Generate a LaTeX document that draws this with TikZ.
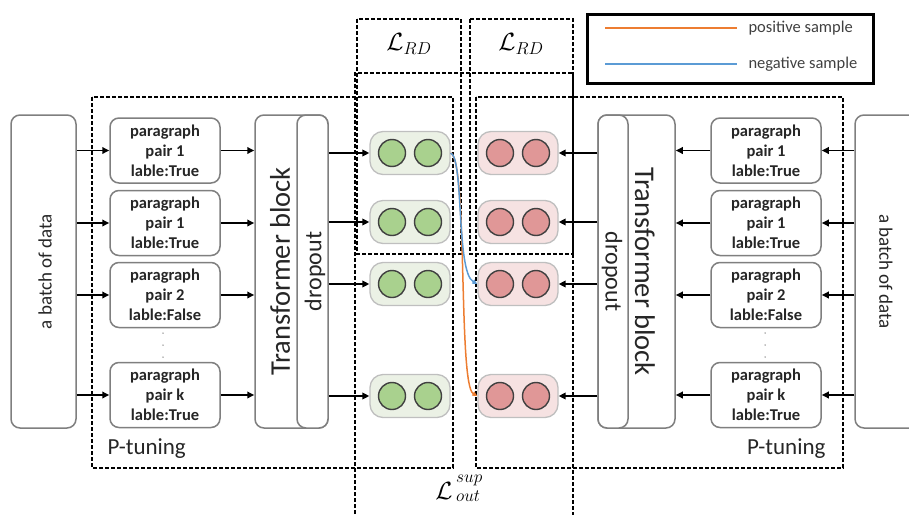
\documentclass[tikz,border=0pt]{standalone}
\usepackage{fontspec}
\setmainfont{Carlito}
\usetikzlibrary{arrows.meta,calc}
\definecolor{boxgray}{HTML}{7F7F7F}
\definecolor{txtdark}{HTML}{262626}
\definecolor{pillgray}{HTML}{BFBFBF}
\definecolor{gpill}{HTML}{EBF1E5}
\definecolor{gcirc}{HTML}{A9D18E}
\definecolor{rpill}{HTML}{F6E2E2}
\definecolor{rcirc}{HTML}{E09797}
\definecolor{circline}{HTML}{404040}
\definecolor{posorange}{HTML}{ED7D31}
\definecolor{negblue}{HTML}{5B9BD5}
\begin{document}
\begin{tikzpicture}[x=1pt,y=-1pt,
  box/.style={draw=boxgray, line width=1.5pt, rounded corners=9pt, fill=white, inner sep=0pt},
  para/.style={box, minimum width=110pt, minimum height=65pt, align=center, text=txtdark,
     font=\fontsize{16.5}{20}\selectfont\bfseries},
  tall/.style={box, minimum height=313pt},
  arr/.style={-{Triangle[length=7pt,width=6.5pt]}, line width=1.8pt},
  dbox/.style={dash pattern=on 4pt off 2pt, line width=2pt},
  pill/.style={draw=pillgray, line width=1.3pt, rounded corners=13pt, minimum width=80pt, minimum height=43pt, inner sep=0pt},
  gp/.style={pill, fill=gpill},
  rp/.style={pill, fill=rpill},
  circ/.style={circle, draw=circline, line width=1.4pt, minimum size=27pt, inner sep=0pt},
  gc/.style={circ, fill=gcirc},
  rc/.style={circ, fill=rcirc},
  dotn/.style={circle, fill=boxgray, minimum size=1.5pt, inner sep=0pt},
  curve/.style={line width=1.5pt, -{Triangle[length=5pt,width=4.5pt]}}
]
\useasboundingbox (0,0) rectangle (909,514);

% dashed frames
\draw[dbox] (92,97) rectangle (453,468);
\draw[dbox] (476,97) rectangle (843,468);
\draw[dbox] (357,19) rectangle (461,254);
\draw[dbox] (470,19) rectangle (573,254);
\draw[dbox] (355,520) -- (355,73) -- (573,73) -- (573,520);

\node (lrd1) at (409,44) {\fontsize{23}{26}\selectfont$\mathcal{L}_{RD}$};
\node (lrd2) at (521,44) {\fontsize{23}{26}\selectfont$\mathcal{L}_{RD}$};
\node[inner sep=0pt] (lsup) at (444,491) {\fontsize{26}{28}\selectfont$\mathcal{L}$};
\node[inner sep=0pt, anchor=south west] (lsupa) at (456,486) {\fontsize{17}{18}\selectfont$sup$};
\node[inner sep=0pt, anchor=north west] (lsupb) at (456,491) {\fontsize{17}{18}\selectfont$out$};

% legend
\draw[line width=3pt] (587,14) rectangle (873,83);
\coordinate (po1) at (605,28); \coordinate (po2) at (737,28);
\coordinate (ne1) at (605,64); \coordinate (ne2) at (737,64);
\draw[posorange, line width=1.6pt] (po1) -- (po2);
\draw[negblue, line width=1.6pt] (ne1) -- (ne2);
\node[anchor=west, text=circline, font=\fontsize{16.5}{18}\selectfont] (pos) at (745,28) {positive sample};
\node[anchor=west, text=circline, font=\fontsize{16.5}{18}\selectfont] (neg) at (745,64) {negative sample};

% left side
\node[tall, minimum width=65pt] (bl) at (43.5,271.5) {};
\node[rotate=90, font=\fontsize{19}{20}\selectfont, text=txtdark] (blt) at (45,271.5) {a batch of data};
\node[para] (p1) at (165,150.5) {paragraph\\pair 1\\lable:True};
\node[para] (p2) at (165,223) {paragraph\\pair 1\\lable:True};
\node[para] (p3) at (165,295) {paragraph\\pair 2\\lable:False};
\node[para] (p4) at (165,395) {paragraph\\pair k\\lable:True};
\node[dotn] (d1) at (163,333) {};
\node[dotn] (d2) at (163,345) {};
\node[dotn] (d3) at (163,357) {};
\node[tall, minimum width=73pt] (tl) at (291.5,271.5) {};
\node[tall, minimum width=31pt] (dl) at (312.5,271.5) {};
\node[rotate=90, font=\fontsize{28.5}{30}\selectfont, text=txtdark] (tlt) at (280,271.5) {Transformer block};
\node[rotate=90, font=\fontsize{24}{26}\selectfont, text=txtdark] (dlt) at (315,271.5) {dropout};

\node[font=\fontsize{23}{26}\selectfont, text=txtdark, anchor=west] (ptl) at (104,449) {P-tuning};

% right side
\node[tall, minimum width=65pt] (br) at (887.5,271.5) {};
\node[rotate=-90, font=\fontsize{19}{20}\selectfont, text=txtdark] (brt) at (886,271.5) {a batch of data};
\node[para] (q1) at (766,150.5) {paragraph\\pair 1\\lable:True};
\node[para] (q2) at (766,223) {paragraph\\pair 1\\lable:True};
\node[para] (q3) at (766,295) {paragraph\\pair 2\\lable:False};
\node[para] (q4) at (766,395) {paragraph\\pair k\\lable:True};
\node[dotn] (e1) at (765,333) {};
\node[dotn] (e2) at (765,345) {};
\node[dotn] (e3) at (765,357) {};
\node[tall, minimum width=77pt] (tr) at (636.5,271.5) {};
\node[tall, minimum width=30pt] (dr) at (613,271.5) {};
\node[rotate=-90, font=\fontsize{28.5}{30}\selectfont, text=txtdark] (trt) at (645,271.5) {Transformer block};
\node[rotate=-90, font=\fontsize{24}{26}\selectfont, text=txtdark] (drt) at (612,271.5) {dropout};

\node[font=\fontsize{23}{26}\selectfont, text=txtdark, anchor=east] (ptr) at (829,449) {P-tuning};

% pills
\foreach \n/\y in {1/153,2/222,3/284,4/396}{
  \node[gp] (g\n) at (410,\y) {};
  \node[gc] (ga\n) at (392,\y) {};
  \node[gc] (gb\n) at (428,\y) {};
  \node[rp] (r\n) at (518,\y) {};
  \node[rc] (ra\n) at (500,\y) {};
  \node[rc] (rb\n) at (536,\y) {};
}

% arrows left
\foreach \p in {p1,p2,p3,p4}{
  \draw[arr] (bl.east |- \p.west) -- (\p.west);
  \draw[arr] (\p.east) -- (\p.east -| tl.west);
}
\foreach \g in {g1,g2,g3,g4}{
  \draw[arr] (dl.east |- \g.west) -- (\g.west);
}
% arrows right
\foreach \q in {q1,q2,q3,q4}{
  \draw[arr] (br.west |- \q.east) -- (\q.east);
  \draw[arr] (\q.west) -- (\q.west -| tr.east);
}
\foreach \r in {r1,r2,r3,r4}{
  \draw[arr] (dr.west |- \r.east) -- (\r.east);
}

% curves
\draw[curve, posorange] (g1.east) .. controls (468,160) and (458,385) .. (r4.west);
\draw[curve, negblue] (g1.east) .. controls (464,158) and (456,272) .. (r3.west);
\end{tikzpicture}
\end{document}
